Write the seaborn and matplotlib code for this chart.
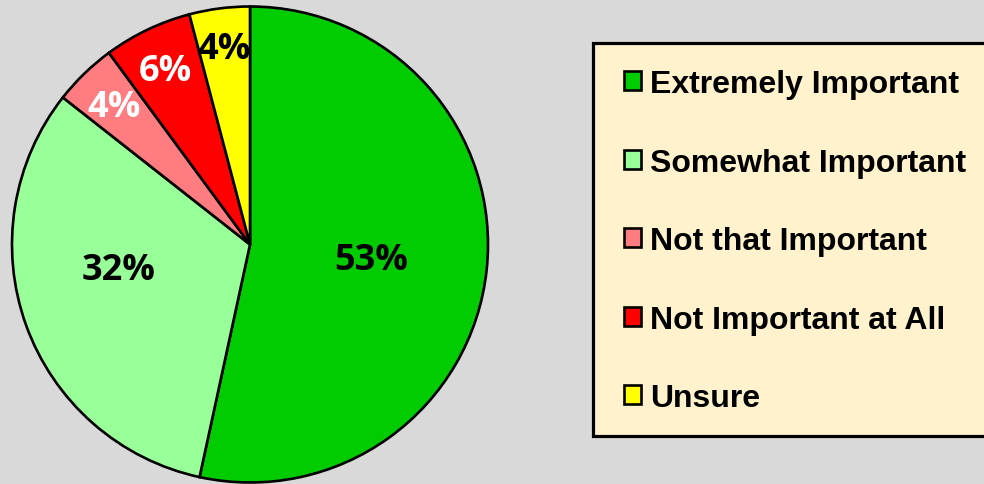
import matplotlib
matplotlib.use("Agg")
import matplotlib.pyplot as plt
import seaborn as sns
import numpy as np
from matplotlib.patches import Rectangle

# survey answers
categories = ["Extremely Important", "Somewhat Important", "Not that Important",
              "Not Important at All", "Unsure"]
values = [53.4, 32.2, 4.3, 6.0, 4.1]
colors = ["#00CC00", "#99FF99", "#FF7C80", "#FF0000", "#FFFF00"]
label_colors = ["black", "black", "white", "white", "black"]

sns.set_theme(style="white")
plt.rcParams['font.family'] = ['Open Sans', 'DejaVu Sans']

W, H = 984, 485
fig = plt.figure(figsize=(W / 100, H / 100), dpi=100, facecolor="#D9D9D9")
ax = fig.add_axes([0, 0, 1, 1])
ax.set_facecolor("#D9D9D9")

cx, cy, R = 250, H - 245.5, 238
wedges, texts, autotexts = ax.pie(
    values, colors=colors, startangle=90, counterclock=False,
    center=(cx, cy), radius=R, autopct='%.0f%%',
    wedgeprops=dict(edgecolor='black', linewidth=1.9),
    textprops=dict(fontsize=26, fontweight='bold'))
ax.set_xlim(0, W)
ax.set_ylim(0, H)
ax.axis('off')

# place the percent labels roughly where Excel put them
label_r = [0.51, 0.56, 0.82, 0.82, 0.84]
label_shift = [0, -10, 0, 0, 0]
for w, t, r, s, c in zip(wedges, autotexts, label_r, label_shift, label_colors):
    ang = np.deg2rad((w.theta1 + w.theta2) / 2 + s)
    t.set_position((cx + r * R * np.cos(ang), cy + r * R * np.sin(ang) - 3))
    t.set_color(c)

# legend box
ax.add_patch(Rectangle((593, H - 437), W - 593 + 20, 437 - 43.5,
                       facecolor="#FFF2CC", edgecolor="black", linewidth=2.3,
                       clip_on=False, zorder=2))

leg = ax.legend(wedges, categories, loc='upper left',
                bbox_to_anchor=(624, H - 70), bbox_transform=ax.transData,
                frameon=False, borderpad=0, borderaxespad=0,
                handlelength=0.53, handleheight=0.53, handletextpad=0.28,
                labelspacing=1.52, labelcolor='black',
                prop=dict(family='Liberation Sans', weight='bold', size=23))
leg.set_zorder(3)

fig.savefig("out.png", dpi=100, facecolor=fig.get_facecolor())
